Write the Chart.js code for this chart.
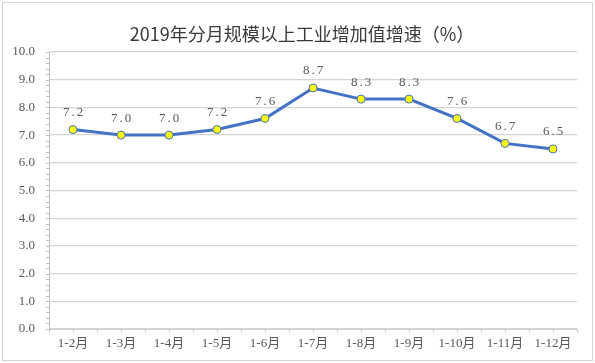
<!DOCTYPE html>
<html>
<head>
<meta charset="utf-8">
<script src="https://cdn.jsdelivr.net/npm/chart.js@4"></script>
<style>
  html, body { margin: 0; padding: 0; background: #ffffff; }
  #wrap { position: relative; width: 595px; height: 363px; }
  #frame { position: absolute; left: 2px; top: 2px; width: 589px; height: 357px; border: 1px solid #d4d4d4; pointer-events: none; }
  canvas { position: absolute; left: 0; top: 0; }
</style>
</head>
<body>
<div id="wrap">
  <canvas id="chart" width="595" height="363"></canvas>
  <div id="frame"></div>
</div>
<script>
const titleText = "2019年分月规模以上工业增加值增速（%）";
const months = ["1-2月", "1-3月", "1-4月", "1-5月", "1-6月", "1-7月", "1-8月", "1-9月", "1-10月", "1-11月", "1-12月"];
const growth = [7.2, 7.0, 7.0, 7.2, 7.6, 8.7, 8.3, 8.3, 7.6, 6.7, 6.5];
const yMin = 0;
const yMax = 10;
const yStep = 1;

const serifFont = "'Liberation Serif', 'Noto Sans CJK SC', serif";
const labelGrey = "#595959";

// title, point values, and the small axis ticks
const extras = {
    id: "extras",
    beforeDraw(chart) {
        const c = chart.ctx;
        c.save();
        c.fillStyle = "#3a3a3a";
        c.font = "18px 'Noto Sans CJK SC', sans-serif";
        c.textAlign = "center";
        c.textBaseline = "middle";
        c.fillText(titleText, 302, 34);
        c.restore();
    },
    afterDatasetsDraw(chart) {
        const c = chart.ctx;
        const x = chart.scales.x;
        const y = chart.scales.y;
        c.save();
        c.strokeStyle = "#bfbfbf";
        c.lineWidth = 1;
        c.beginPath();
        // minor ticks on the value axis
        for (let v = yMin; v <= yMax + 0.001; v += 0.2) {
            const py = Math.round(y.getPixelForValue(v)) + 0.5;
            c.moveTo(x.left - 3, py);
            c.lineTo(x.left, py);
        }
        // ticks on the category axis, at centres and borders
        const half = (x.getPixelForValue(1) - x.getPixelForValue(0)) / 2;
        for (let i = 0; i < months.length; i++) {
            const cx = x.getPixelForValue(i);
            [cx - half, cx, cx + half].forEach(function (px) {
                px = Math.round(px) + 0.5;
                c.moveTo(px, y.bottom);
                c.lineTo(px, y.bottom + 3);
            });
        }
        c.stroke();

        const meta = chart.getDatasetMeta(0);
        c.fillStyle = labelGrey;
        c.font = "13px " + serifFont;
        c.textAlign = "center";
        c.textBaseline = "middle";
        c.letterSpacing = "2px";
        meta.data.forEach(function (pt, i) {
            c.fillText(growth[i].toFixed(1), pt.x + 1, pt.y - 17);
        });
        c.restore();
    }
};

const ctx = document.getElementById("chart").getContext("2d");

new Chart(ctx, {
    type: "line",
    data: {
        labels: months,
        datasets: [
            {
                label: "增速",
                data: growth,
                borderColor: "#4472c4",
                borderWidth: 3,
                tension: 0,
                pointRadius: 4,
                pointBorderWidth: 1,
                pointBackgroundColor: "#ffff00",
                pointBorderColor: "#4472c4"
            }
        ]
    },
    options: {
        responsive: false,
        animation: false,
        layout: {
            padding: { top: 52, right: 18, left: 0, bottom: 0 }
        },
        scales: {
            x: {
                offset: true,
                grid: { display: false, drawTicks: false },
                border: { color: "#d0d0d0", width: 1 },
                ticks: {
                    color: labelGrey,
                    font: { size: 13, family: serifFont },
                    maxRotation: 0,
                    autoSkip: false,
                    padding: 7
                },
                afterFit(scale) { scale.height = 34; }
            },
            y: {
                min: yMin,
                max: yMax,
                grid: { color: "#d4d4d4", lineWidth: 1.3, drawTicks: false },
                border: { color: "#bfbfbf", width: 1 },
                ticks: {
                    stepSize: yStep,
                    color: labelGrey,
                    font: { size: 13, family: serifFont },
                    padding: 14,
                    callback: function (v) { return Number(v).toFixed(1); }
                },
                afterFit(scale) { scale.width = 49; }
            }
        },
        plugins: {
            legend: { display: false },
            tooltip: { enabled: false }
        }
    },
    plugins: [extras]
});
</script>
</body>
</html>
